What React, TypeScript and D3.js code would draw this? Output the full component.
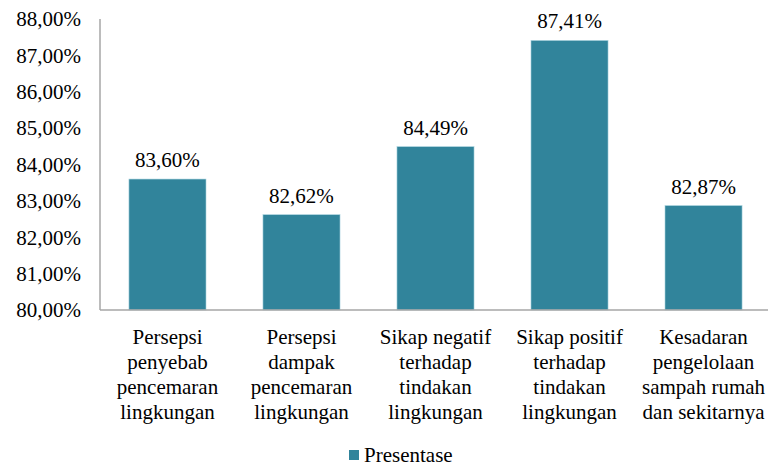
import React from "react";
import * as d3 from "d3";

const categories = [
  ["Persepsi", "penyebab", "pencemaran", "lingkungan"],
  ["Persepsi", "dampak", "pencemaran", "lingkungan"],
  ["Sikap negatif", "terhadap", "tindakan", "lingkungan"],
  ["Sikap positif", "terhadap", "tindakan", "lingkungan"],
  ["Kesadaran", "pengelolaan", "sampah rumah", "dan sekitarnya"],
];
const values = [83.6, 82.62, 84.49, 87.41, 82.87];
const yTicks = [80, 81, 82, 83, 84, 85, 86, 87, 88];
const seriesName = "Presentase";

const W = 769, H = 466;
const left = 100, right = 771, top = 19, bottom = 310;
const color = "#31849B";
const font = "Liberation Serif";
const fs = 21;

const fmt = (v: number) => v.toFixed(2).replace(".", ",") + "%";

export default function App() {
  const x = d3.scaleBand<number>().domain(values.map((_, i) => i)).range([left, right]).paddingInner(0.425).paddingOuter(0.216);
  const y = d3.scaleLinear().domain([80, 88]).range([bottom, top]);
  const ts = { fontFamily: font };
  return (
    <svg width={W} height={H} style={{ position: "absolute", left: 0, top: 0, background: "#fff" }}>
      <line x1={left} x2={left} y1={top} y2={bottom} stroke="#a6a6a6" strokeWidth={1.5} />
      {yTicks.map((t) => (
        <text key={t} x={81} y={y(t)} dy="0.35em" textAnchor="end" fontSize={fs} fill="#000" style={ts}>
          {fmt(t)}
        </text>
      ))}
      {values.map((v, i) => (
        <g key={i}>
          <rect x={x(i)} y={y(v)} width={x.bandwidth()} height={bottom - y(v)} fill={color} stroke="#a9d3de" strokeWidth={0.6} />
          <text x={x(i)! + x.bandwidth() / 2} y={y(v) - 12} textAnchor="middle" fontSize={fs} fill="#000" style={ts}>
            {fmt(v)}
          </text>
          {categories[i].map((line, j) => (
            <text key={j} x={x(i)! + x.bandwidth() / 2} y={344 + j * 25} textAnchor="middle" fontSize={fs} fill="#000" style={ts}>
              {line}
            </text>
          ))}
        </g>
      ))}
      <line x1={left} x2={768} y1={bottom} y2={bottom} stroke="#a6a6a6" strokeWidth={1.5} />
      <rect x={349} y={450} width={10} height={10} fill={color} />
      <text x={364} y={462} fontSize={fs} fill="#000" style={ts}>{seriesName}</text>
    </svg>
  );
}
